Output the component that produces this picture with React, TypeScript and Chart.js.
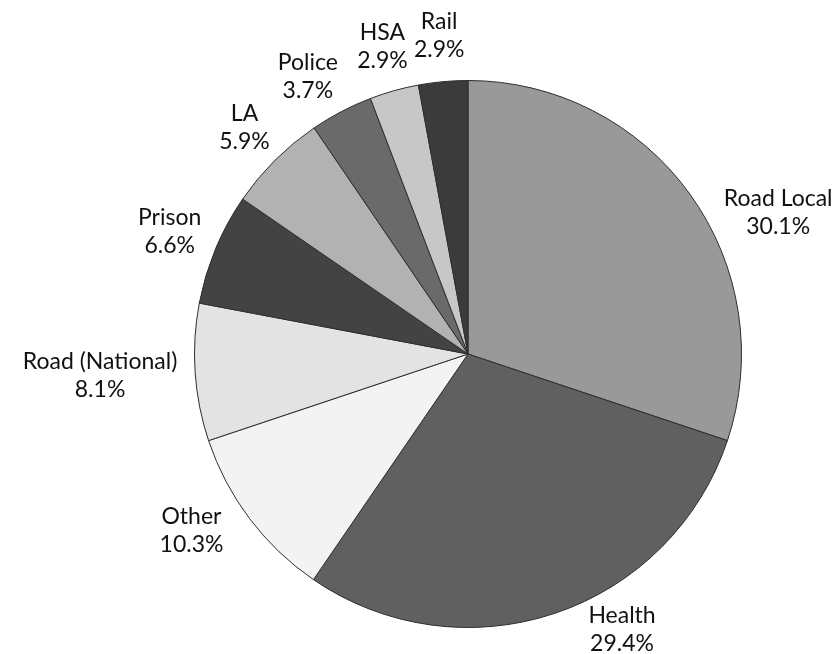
import React, { useEffect, useRef } from "react";
import { Chart, registerables } from "chart.js";

Chart.register(...registerables);

const categories = [
  "Road Local",
  "Health",
  "Other",
  "Road (National)",
  "Prison",
  "LA",
  "Police",
  "HSA",
  "Rail",
];
const shares = [30.1, 29.4, 10.3, 8.1, 6.6, 5.9, 3.7, 2.9, 2.9];
const sliceColors = [
  "#999999",
  "#606060",
  "#f3f3f3",
  "#e3e3e3",
  "#434343",
  "#b2b2b2",
  "#6a6a6a",
  "#c7c7c7",
  "#3b3b3b",
];
// label placement style: angular nudge (degrees) and radial nudge (px) per label
const labelAngleNudge = [9.5, -10.2, 4.1, 0, 0, 0, -2.3, 0, 0];
const labelRadiusNudge = [0, -5, 6, 0, 0, 0, 0, 0, 0];

const FONT = "23px Lato, 'Open Sans', sans-serif";
const LINE_H = 28;
const LABEL_GAP = 18;

const outsideLabels = {
  id: "outsideLabels",
  afterDraw(chart: any) {
    const ctx = chart.ctx;
    const meta = chart.getDatasetMeta(0);
    ctx.save();
    ctx.font = FONT;
    ctx.fillStyle = "#111111";
    ctx.textAlign = "center";
    ctx.textBaseline = "middle";
    meta.data.forEach((arc: any, i: number) => {
      const p = arc.getProps(["startAngle", "endAngle", "x", "y", "outerRadius"], true);
      const a = (p.startAngle + p.endAngle) / 2 + (labelAngleNudge[i] * Math.PI) / 180;
      const c = Math.cos(a);
      const s = Math.sin(a);
      const lines = [categories[i], shares[i].toFixed(1) + "%"];
      const w = Math.max(...lines.map((t) => ctx.measureText(t).width));
      const h = LINE_H * lines.length;
      const d = p.outerRadius + LABEL_GAP + labelRadiusNudge[i];
      const ax = p.x + d * c;
      const ay = p.y + d * s;
      const cx = ax + (c * w) / 2;
      const cy = ay + (s * h) / 2;
      lines.forEach((t, k) => {
        ctx.fillText(t, cx, cy + (k - (lines.length - 1) / 2) * LINE_H);
      });
    });
    ctx.restore();
  },
};

export default function App() {
  const ref = useRef<HTMLCanvasElement | null>(null);
  useEffect(() => {
    if (!ref.current) return;
    const chart = new Chart(ref.current, {
      type: "pie",
      data: {
        labels: categories,
        datasets: [
          {
            data: shares,
            backgroundColor: sliceColors,
            borderColor: "#2e2e2e",
            borderWidth: 1,
          },
        ],
      },
      options: {
        responsive: false,
        animation: false,
        layout: { padding: { left: 149, right: 50, top: 80, bottom: 26 } },
        plugins: {
          legend: { display: false },
          tooltip: { enabled: false },
        },
      },
      plugins: [outsideLabels],
    });
    return () => chart.destroy();
  }, []);
  return (
    <div style={{ position: "absolute", left: 0, top: 0, width: 837, height: 654, background: "#ffffff" }}>
      <canvas ref={ref} width={837} height={654} />
    </div>
  );
}
